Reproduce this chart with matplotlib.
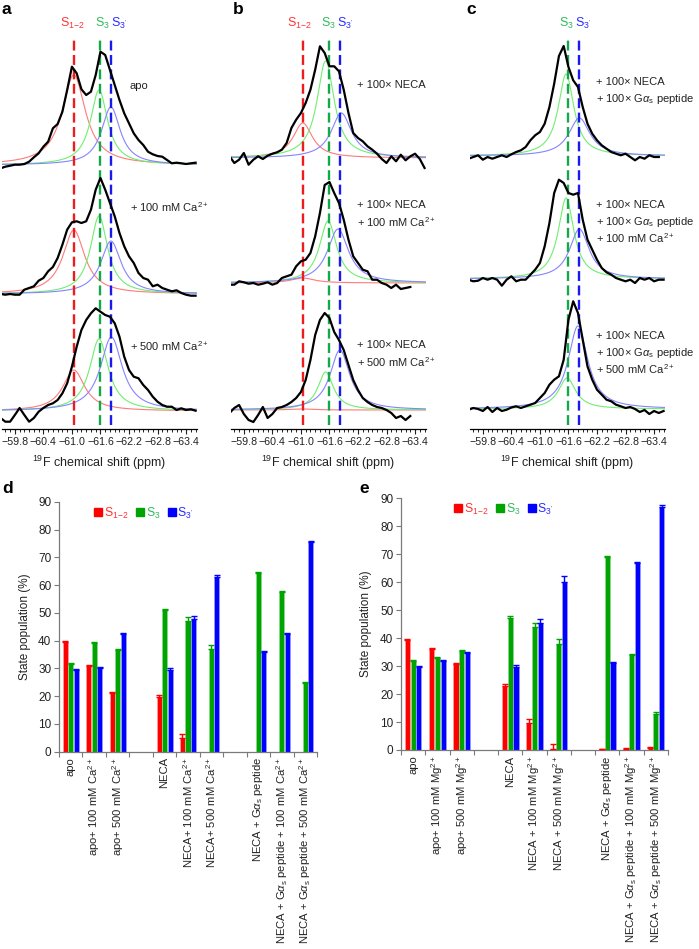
import numpy as np
import matplotlib
matplotlib.use('Agg')
import matplotlib.pyplot as plt
from matplotlib.ticker import MultipleLocator, FixedLocator
from matplotlib.lines import Line2D

plt.rcParams['font.family'] = ['Liberation Sans', 'DejaVu Sans']
plt.rcParams['mathtext.fontset'] = 'custom'
plt.rcParams['mathtext.rm'] = 'Liberation Sans'
plt.rcParams['mathtext.it'] = 'Liberation Sans:italic'
plt.rcParams['mathtext.bf'] = 'Liberation Sans:bold'

W, H = 699, 949

# ---------------- spectra data ----------------
# sampling grid of the experimental traces (ppm)
shift_grid = np.round(np.arange(-59.5, -63.65, -0.1), 2)

# experimental (black) traces: height above each trace's own baseline
a1_trace = [-3.3, -1.7, -0.7, 0.3, 0.3, 1, 3.3, 7.7, 11.7, 18.3, 23.3, 36.7, 41, 53.3, 75, 98.3,
            91.7, 75.7, 70, 73.3, 90, 113.3, 110, 95, 80, 65, 51.7, 41.7, 31.7, 25, 20, 13.3,
            10.7, 9, 8.3, 5, 1.7, 2.3, 1.7, 1, 1.7, 2.3]
a2_trace = [0, -0.7, 0, -0.7, -0.7, 4.3, 6, 7.7, 13.3, 16, 22.7, 27, 36, 49.3, 64.3, 71.7,
            72.7, 71, 72.7, 84.3, 104.3, 116, 104.3, 91, 77.7, 61, 47.7, 37.7, 31, 21, 16, 14.3,
            7.7, 9.3, 6, 4.3, 2.7, 3.7, 1, -0.7, -1.7, -1.7]
a3_trace = [-7, -10.7, -10.7, -4, 3, -4, -10.7, -7, -0.7, 3, 6, 7.7, 11, 17.7, 27.7, 44.3,
            64.3, 81, 91, 97.7, 102.7, 99.3, 96, 94.3, 87.7, 74.3, 54.3, 41, 34.3, 32.7, 26, 21,
            14.3, 9.3, 6, 4.3, 4.3, 1, 2.7, 1, 1.7, 0.3]
b1_trace = [1.7, -5, -1.7, 5, -6.7, -1.7, 1.7, -1, 2.3, 4.3, 5.7, 8.3, 15, 30, 38.3, 45,
            55, 68.3, 88.3, 111.7, 105, 91.7, 91.7, 86.7, 68.3, 45, 25, 20, 16.7, 11.7, 8.3, 4.3,
            -1, -5, 1.7, -3.3, 3.3, -2.3, 1.7, 4.3, -1, -10]
b2_trace = [-1.7, -1.7, 1.7, 0.7, -0.7, 0, -1.7, -0.7, 0.7, -1.7, 0, 5, 6.7, 8.3, 16.7, 21.7,
            23.3, 30, 46.7, 70, 98, 101, 90, 80, 63.3, 43.3, 26.7, 20, 13.3, 11.7, 3.3, 3.3,
            0, -1.7, -5, -1.7, -6, -5, -4]
b3_trace = [-3, 2, 5, -4, -10, -12, -5, 3, -8, -4, 2, 3, 5, 8, 12, 18,
            30, 50, 75, 90, 97, 92, 78, 70, 60, 45, 30, 20, 12, 8, 5, 3,
            2, 0, -3, -8, -6, -10, -6]
c1_trace = [-2.7, -1, 0.7, -3.7, -1, -2.7, -1, 0.7, -1, 1.7, 4, 5.7, 9, 15.7, 20.7, 24,
            32.3, 49, 72.3, 100, 110, 89, 75.7, 69, 49, 32.3, 22.3, 15.7, 10.7, 7.3, 4, 2.3,
            0.7, 2.3, -1, -4.3, -1, -2.7, 0.7, -1, -1]
c2_trace = [-0.7, -2.3, -1.7, 1, -0.7, 1, -0.7, -6.7, -0.7, 2.7, -2.3, -0.7, -0.7, 4.3, 9.3, 16,
            32.7, 56, 86, 99.3, 96, 86, 84.3, 86, 59.3, 39.3, 29.3, 19.3, 11, 6.7, 4.3, 1,
            -0.7, -2.3, -0.7, -4, 1, -0.7, 1, -2.3, -0.7, -0.7]
c3_trace = [-0.7, 1, 0, -2, 2, -3, 1, -2, -0.7, 1.5, 2.7, 1, 2.7, 4.3, 6, 11,
            16, 24.3, 29.3, 32.7, 49.3, 89.3, 107.7, 96, 69.3, 42.7, 29.3, 19.3, 14.3, 9.3, 7.7, 4.3,
            2.7, 1, 2, 0, -3, -1, -5, -2, -4, -2]

# vertical offsets of each trace (intensity units)
a_offsets = [264, 135, 18]
b_offsets = [271, 146, 19]
c_offsets = [273, 150, 20]

# fitted Lorentzian components: (state, centre ppm, height, half width ppm)
a1_fit = [('S12', -61.04, 90, 0.30), ('S3', -61.57, 75, 0.22), ('S3p', -61.82, 58, 0.24)]
a2_fit = [('S12', -61.04, 64, 0.28), ('S3', -61.57, 78, 0.22), ('S3p', -61.82, 53, 0.26)]
a3_fit = [('S12', -61.04, 41, 0.28), ('S3', -61.57, 72, 0.24), ('S3p', -61.83, 74, 0.28)]
b1_fit = [('S12', -61.04, 35, 0.25), ('S3', -61.52, 97, 0.22), ('S3p', -61.85, 45, 0.26)]
b2_fit = [('S12', -61.04, 5, 0.30), ('S3', -61.57, 62, 0.22), ('S3p', -61.78, 54, 0.27)]
b3_fit = [('S12', -61.04, 1, 0.30), ('S3', -61.52, 38, 0.20), ('S3p', -61.82, 60, 0.25)]
c1_fit = [('S3', -61.55, 82, 0.20), ('S3p', -61.83, 38, 0.27)]
c2_fit = [('S3', -61.55, 81, 0.20), ('S3p', -61.83, 50, 0.25)]
c3_fit = [('S3', -61.57, 31, 0.22), ('S3p', -61.80, 83, 0.25)]

state_shift = {'S12': -61.04, 'S3': -61.58, 'S3p': -61.83}

# ---------------- bar data ----------------
d_labels = ['apo', 'apo+ 100 mM Ca$^{2+}$', 'apo+ 500 mM Ca$^{2+}$',
            'NECA', 'NECA+ 100 mM Ca$^{2+}$', 'NECA+ 500 mM Ca$^{2+}$',
            r'NECA + G$\alpha_\mathrm{s}$ peptide',
            r'NECA + G$\alpha_\mathrm{s}$ peptide + 100 mM Ca$^{2+}$',
            r'NECA + G$\alpha_\mathrm{s}$ peptide + 500 mM Ca$^{2+}$']
e_labels = ['apo', 'apo+ 100 mM Mg$^{2+}$', 'apo+ 500 mM Mg$^{2+}$',
            'NECA', 'NECA + 100 mM Mg$^{2+}$', 'NECA + 500 mM Mg$^{2+}$',
            r'NECA + G$\alpha_\mathrm{s}$ peptide',
            r'NECA + G$\alpha_\mathrm{s}$ peptide + 100 mM Mg$^{2+}$',
            r'NECA + G$\alpha_\mathrm{s}$ peptide + 500 mM Mg$^{2+}$']
slots = [0, 1, 2, 4, 5, 6, 8, 9, 10]

d_s12 = [39.5, 31.0, 21.2, 19.8, 5.0, 0, 0, 0, 0]
d_s12_err = [0.3, 0.3, 0.3, 0.7, 1.2, 0, 0, 0, 0]
d_s3 = [31.6, 39.3, 36.8, 51.0, 47.2, 37.0, 64.3, 57.6, 24.7]
d_s3_err = [0.4, 0.3, 0.3, 0.6, 1.3, 1.3, 0.5, 0.4, 0.6]
d_s3p = [29.6, 30.2, 42.4, 29.5, 47.8, 62.8, 35.8, 42.5, 75.5]
d_s3p_err = [0.3, 0.4, 0.3, 0.6, 1.2, 1.0, 0.6, 0.4, 0.6]

e_s12 = [39.5, 36.0, 30.7, 23.0, 9.5, 0.5, 0.3, 0.5, 0.7]
e_s12_err = [0.3, 0.3, 0.3, 0.5, 1.5, 1.5, 0.1, 0.2, 0.2]
e_s3 = [31.7, 32.8, 35.4, 47.3, 44.0, 37.8, 69.0, 34.0, 12.8]
e_s3_err = [0.4, 0.4, 0.3, 0.7, 1.5, 2.0, 0.3, 0.3, 0.7]
e_s3p = [29.6, 31.8, 34.8, 29.7, 45.5, 60.2, 31.2, 66.7, 86.8]
e_s3p_err = [0.3, 0.3, 0.3, 0.6, 1.5, 1.9, 0.3, 0.4, 0.7]

# ---------------- styles ----------------
comp_col = {'S12': '#ff7a7a', 'S3': '#70ee70', 'S3p': '#8484ff'}
dash_col = {'S12': '#ee1c1c', 'S3': '#15a84a', 'S3p': '#1a1aee'}
lab_col = {'S12': '#ff3333', 'S3': '#2dbb5a', 'S3p': '#2a2aff'}
lab_txt = {'S12': r'S$_{1\!-\!2}$', 'S3': r'S$_{3}$', 'S3p': r"S$_{3'}$"}
bar_col = ['#ff0000', '#00a400', '#0000ff']
bar_edge = ['#ff9a9a', '#8ad88a', '#9a9aff']
txt_col = '#222222'

fig = plt.figure(figsize=(W / 100, H / 100), dpi=100)


def fx(px):
    return px / W


def fy(py):
    return 1 - py / H


def lorentz(x, c, h, w):
    return h / (1 + ((x - c) / w) ** 2)


fine = np.linspace(-59.5, -63.7, 600)


def spectra_panel(left, traces, fits, offsets, states, notes):
    ax = fig.add_axes([fx(left), fy(429), 195 / W, 392 / H])
    ax.set_xlim(-59.53, -63.63)
    ax.set_ylim(0, 392)
    for s in ['left', 'right', 'top']:
        ax.spines[s].set_visible(False)
    ax.spines['bottom'].set_linewidth(0.9)
    ax.set_yticks([])
    ax.xaxis.set_major_locator(FixedLocator([-59.8, -60.4, -61.0, -61.6, -62.2, -62.8, -63.4]))
    ax.xaxis.set_minor_locator(MultipleLocator(0.1))
    ax.set_xticklabels(['\u221259.8', '\u221260.4', '\u221261.0', '\u221261.6',
                        '\u221262.2', '\u221262.8', '\u221263.4'])
    ax.tick_params(axis='x', which='major', length=3.5, width=0.8, labelsize=7.7, pad=2,
                   colors=txt_col)
    ax.tick_params(axis='x', which='minor', length=2, width=0.6)
    ax.set_xlabel(r'$^{19}$F chemical shift (ppm)', fontsize=9, color=txt_col, labelpad=5)
    for s in states:
        ax.vlines(state_shift[s], 4, 392, colors=dash_col[s], linewidth=1.7,
                  linestyles=(0, (4.2, 1.9)), zorder=3)
    for tr, fit, off in zip(traces, fits, offsets):
        for (st, c, h, w) in fit:
            ax.plot(fine, off + lorentz(fine, c, h, w), color=comp_col[st], lw=0.8, zorder=2)
        n = len(tr)
        ax.plot(shift_grid[:n], off + np.array(tr), color='black', lw=1.6, zorder=4,
                solid_joinstyle='round')
    for (x, y, t) in notes:
        fig.text(fx(x), fy(y), t, fontsize=8, color=txt_col, ha='left', va='center')
    return ax


spectra_panel(2, [a1_trace, a2_trace, a3_trace], [a1_fit, a2_fit, a3_fit], a_offsets,
              ['S12', 'S3', 'S3p'],
              [(130, 86, 'apo'), (130, 207, '+ 100 mM Ca$^{2+}$'), (130, 346, '+ 500 mM Ca$^{2+}$')])
spectra_panel(231, [b1_trace, b2_trace, b3_trace], [b1_fit, b2_fit, b3_fit], b_offsets,
              ['S12', 'S3', 'S3p'],
              [(357, 85, '+ 100\u00d7 NECA'), (357, 205, '+ 100\u00d7 NECA'),
               (357, 222, '+ 100 mM Ca$^{2+}$'), (357, 345, '+ 100\u00d7 NECA'),
               (357, 362, '+ 500 mM Ca$^{2+}$')])
spectra_panel(470, [c1_trace, c2_trace, c3_trace], [c1_fit, c2_fit, c3_fit], c_offsets,
              ['S3', 'S3p'],
              [(596, 82, '+ 100\u00d7 NECA'), (596, 99, r'+ 100$\times$ G$\alpha_\mathrm{s}$ peptide'),
               (596, 205, '+ 100\u00d7 NECA'), (596, 222, r'+ 100$\times$ G$\alpha_\mathrm{s}$ peptide'),
               (596, 238, '+ 100 mM Ca$^{2+}$'),
               (596, 336, '+ 100\u00d7 NECA'), (596, 353, r'+ 100$\times$ G$\alpha_\mathrm{s}$ peptide'),
               (596, 369, '+ 500 mM Ca$^{2+}$')])

# state labels on top
for s, x in [('S12', 73), ('S3', 102.5), ('S3p', 119), ('S12', 300), ('S3', 328.5), ('S3p', 345),
             ('S3', 566), ('S3p', 583)]:
    fig.text(fx(x), fy(23), lab_txt[s], color=lab_col[s], fontsize=9, ha='center', va='center')

for letter, x, y in [('a', 2, 9), ('b', 233, 9), ('c', 466, 9), ('d', 2, 488), ('e', 359, 488)]:
    fig.text(fx(x), fy(y), letter, fontsize=12.5, fontweight='bold', ha='left', va='center')


def bar_panel(left, right, top, bottom, labels, vals, errs, ylabel_x, leg_x, leg_y):
    ax = fig.add_axes([fx(left), fy(bottom), (right - left) / W, (bottom - top) / H])
    ax.set_xlim(-0.5, 10.5)
    ax.set_ylim(0, 90)
    off = [-0.235, 0.0, 0.235]
    for k in range(3):
        xs = [s + off[k] for s, v in zip(slots, vals[k]) if v > 0]
        ys = [v for v in vals[k] if v > 0]
        es = [e for v, e in zip(vals[k], errs[k]) if v > 0]
        ax.bar(xs, ys, width=0.215, color=bar_col[k], edgecolor=bar_edge[k], linewidth=0.6,
               zorder=2)
        ax.errorbar(xs, ys, yerr=[np.zeros(len(es)), es], fmt='none', ecolor=bar_col[k],
                    elinewidth=1.0, capsize=2.2, capthick=1.0, zorder=3)
    for s in ['right', 'top']:
        ax.spines[s].set_visible(False)
    for s in ['left', 'bottom']:
        ax.spines[s].set_color('#7a7a7a')
        ax.spines[s].set_linewidth(0.9)
    ax.set_yticks(range(0, 91, 10))
    ax.tick_params(axis='y', length=3.5, width=0.8, color='#7a7a7a', labelsize=8.5,
                   labelcolor=txt_col, pad=2)
    ax.set_xticks(slots)
    ax.set_xticklabels(labels, rotation=90, fontsize=8.1, color=txt_col, va='top', ha='center')
    ax.tick_params(axis='x', which='major', length=0, pad=4)
    ax.xaxis.set_minor_locator(FixedLocator(np.arange(-0.5, 10.6, 1.0)))
    ax.tick_params(axis='x', which='minor', length=3.5, width=0.8, color='#7a7a7a')
    fig.text(fx(ylabel_x), fy((top + bottom) / 2), 'State population (%)', rotation=90,
             fontsize=8.5, color=txt_col, ha='center', va='center')
    handles = [Line2D([], [], marker='s', ls='none', color=bar_col[k], markersize=5.2)
               for k in range(3)]
    leg = ax.legend(handles, [lab_txt['S12'], lab_txt['S3'], lab_txt['S3p']], ncol=3,
                    frameon=False, fontsize=8.8, handlelength=0.7, handletextpad=0.1,
                    columnspacing=0.6, loc='center left',
                    bbox_to_anchor=(fx(leg_x), fy(leg_y)), bbox_transform=fig.transFigure)
    for t, s in zip(leg.get_texts(), ['S12', 'S3', 'S3p']):
        t.set_color(lab_col[s])
    return ax


bar_panel(59, 317, 502, 751.7, d_labels, [d_s12, d_s3, d_s3p], [d_s12_err, d_s3_err, d_s3p_err],
          25, 83, 513)
bar_panel(401, 668, 498.3, 750, e_labels, [e_s12, e_s3, e_s3p], [e_s12_err, e_s3_err, e_s3p_err],
          366, 443, 509)

fig.savefig('out.png', dpi=100)
